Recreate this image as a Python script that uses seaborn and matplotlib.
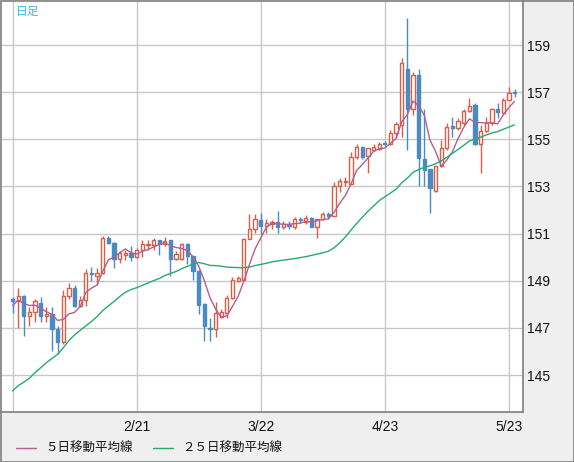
import numpy as np
import pandas as pd
import matplotlib
matplotlib.use("Agg")
import matplotlib.pyplot as plt
import seaborn as sns
from matplotlib.patches import Rectangle

# ---------------- data (USD/JPY daily) ----------------
dates = pd.bdate_range("2024-01-22", "2024-05-24")

opens = [148.24, 148.13, 148.37, 147.50, 147.67, 148.07, 147.49, 147.60, 146.96, 146.38,
         148.34, 148.70, 147.92, 148.17, 149.34, 149.20, 149.34, 150.83, 150.62, 149.93,
         150.10, 150.19, 150.01, 150.30, 150.50, 150.51, 150.74, 150.54, 150.71, 149.94,
         149.93, 150.57, 150.07, 149.43, 148.02, 147.00, 146.94, 147.48, 147.62, 148.26,
         149.00, 149.05, 150.78, 151.20, 151.58, 151.34, 151.42, 151.50, 151.27, 151.36,
         151.27, 151.62, 151.50, 151.67, 151.30, 151.60, 151.82, 151.76, 153.00, 153.18,
         153.12, 154.23, 154.66, 154.30, 154.55, 154.60, 154.85, 154.80, 155.25, 155.61,
         158.00, 156.28, 157.73, 154.16, 153.74, 152.81, 153.88, 154.62, 155.56, 155.46,
         155.70, 156.20, 156.45, 154.79, 155.37, 155.68, 156.28, 156.13, 156.69, 157.00]
highs = [148.32, 148.70, 148.40, 147.89, 148.21, 148.31, 147.89, 147.89, 147.09, 148.60,
         148.91, 148.80, 148.37, 149.48, 149.59, 149.55, 150.90, 150.88, 150.65, 150.26,
         150.29, 150.47, 150.40, 150.72, 150.72, 150.82, 150.74, 150.86, 150.71, 150.25,
         150.61, 150.61, 150.07, 149.45, 148.05, 147.41, 148.08, 147.80, 148.40, 149.16,
         149.20, 150.82, 151.82, 151.82, 151.88, 151.60, 151.58, 151.97, 151.52, 151.52,
         151.69, 151.72, 151.80, 151.72, 151.63, 151.90, 151.90, 153.20, 153.34, 153.42,
         154.47, 154.79, 154.72, 154.65, 154.80, 154.88, 154.93, 155.40, 155.75, 158.45,
         160.15, 157.85, 157.98, 156.28, 153.76, 153.86, 154.97, 155.68, 155.96, 155.89,
         156.27, 156.74, 156.56, 155.60, 155.96, 156.34, 156.54, 156.74, 157.20, 157.12]
lows = [147.63, 146.99, 146.64, 147.06, 147.25, 147.25, 147.25, 146.00, 145.88, 146.30,
        148.24, 147.89, 147.89, 147.92, 148.98, 148.84, 149.27, 150.55, 149.55, 149.76,
        149.88, 149.83, 149.97, 150.00, 150.30, 150.30, 150.08, 150.47, 149.19, 149.90,
        149.87, 149.69, 149.05, 147.60, 146.46, 146.46, 146.60, 147.40, 147.40, 148.23,
        148.95, 149.02, 150.75, 151.04, 151.00, 151.03, 151.20, 151.04, 151.20, 151.20,
        151.20, 151.44, 151.40, 151.27, 150.80, 151.58, 151.60, 151.73, 152.76, 153.00,
        153.10, 154.15, 154.15, 153.58, 154.50, 154.55, 154.70, 154.75, 155.10, 155.10,
        154.53, 156.05, 153.03, 153.03, 151.86, 152.78, 153.84, 154.55, 155.11, 155.39,
        155.60, 156.18, 154.76, 153.58, 155.33, 155.60, 155.89, 156.10, 156.67, 156.78]
closes = [148.13, 148.36, 147.49, 147.67, 148.16, 147.49, 147.60, 146.95, 146.38, 148.36,
          148.68, 147.92, 148.20, 149.34, 149.30, 149.34, 150.83, 150.62, 149.93, 150.19,
          150.18, 150.02, 150.32, 150.54, 150.54, 150.74, 150.54, 150.68, 149.94, 150.15,
          150.54, 150.07, 149.40, 147.98, 147.06, 146.94, 147.62, 147.68, 148.26, 149.05,
          149.10, 150.78, 151.21, 151.60, 151.34, 151.45, 151.50, 151.27, 151.40, 151.33,
          151.62, 151.58, 151.65, 151.30, 151.60, 151.82, 151.76, 153.02, 153.23, 153.25,
          154.23, 154.66, 154.26, 154.62, 154.66, 154.82, 154.80, 155.25, 155.65, 158.22,
          156.28, 157.73, 154.22, 153.70, 152.92, 153.86, 154.62, 155.51, 155.46, 155.76,
          156.21, 156.41, 154.79, 155.37, 155.68, 156.27, 156.17, 156.69, 156.95, 156.97]
# closes of the 24 sessions before the first candle (needed for the moving averages)
prior_closes = [142.8, 143.8, 143.5, 142.1, 142.4, 142.3, 142.4, 142.0, 141.4, 141.0,
                142.0, 143.3, 144.6, 144.6, 144.2, 144.4, 145.7, 145.3, 144.9, 145.7,
                147.2, 148.2, 148.1, 148.1]

grid_dates = ["1/22", "2/21", "3/22", "4/23", "5/23"]
shown_labels = ["", "2/21", "3/22", "4/23", "5/23"]
y_ticks = [145, 147, 149, 151, 153, 155, 157, 159]
legend_labels = ["５日移動平均線", "２５日移動平均線"]
title_text = "日足"

# ---------------- derived ----------------
n = len(closes)
allc = pd.Series(prior_closes + closes)
ma5 = allc.rolling(5).mean().iloc[len(prior_closes):].to_numpy()
ma25 = allc.rolling(25).mean().iloc[len(prior_closes):].to_numpy()
df = pd.DataFrame({"idx": np.arange(n), "ma5": ma5, "ma25": ma25})

UP = "#dc5c44"
DOWN = "#4a8bc3"
MA5C = "#b55e92"
MA25C = "#27ab6b"
GRID = "#c8c8c8"
BG = "#efefef"
BORDER = "#7f7f7f"

sns.set_theme(style="white")
plt.rcParams["font.family"] = ["Liberation Sans", "DejaVu Sans"]

W, H = 574, 462
fig = plt.figure(figsize=(W / 100, H / 100), dpi=100, facecolor=BG)
ax = fig.add_axes([1 / W, (H - 412) / H, 522 / W, 411 / H])
ax.set_facecolor("white")

# grid
gpos = [i for i, d in enumerate(dates) if f"{d.month}/{d.day}" in grid_dates]
for gx in gpos:
    ax.axvline(gx, color=GRID, lw=1.0, zorder=1)
for gy in y_ticks:
    ax.axhline(gy, color=GRID, lw=1.0, zorder=1)

# candles
bw = 0.58
for i in range(n):
    o, h, l, c = opens[i], highs[i], lows[i], closes[i]
    up = c >= o
    col = UP if up else DOWN
    ax.vlines(i, l, h, color=col, lw=1.0, zorder=2)
    bot = min(o, c)
    hgt = max(abs(c - o), 0.02)
    ax.add_patch(Rectangle((i - bw / 2, bot), bw, hgt,
                           facecolor="white" if up else DOWN,
                           edgecolor=col, lw=1.0, zorder=3))

# moving averages
sns.lineplot(data=df, x="idx", y="ma5", color=MA5C, lw=1.0, ax=ax, zorder=4)
sns.lineplot(data=df, x="idx", y="ma25", color=MA25C, lw=1.0, ax=ax, zorder=4)

ax.set_xlim(-2.04, 90.5)
ax.set_ylim(143.43, 160.87)
ax.set_xlabel("")
ax.set_ylabel("")

ax.set_xticks(gpos)
ax.set_xticklabels(shown_labels)
ax.set_yticks(y_ticks)
ax.set_yticklabels([str(v) for v in y_ticks])
ax.yaxis.tick_right()
ax.tick_params(axis="both", length=0, labelsize=10, colors="#111111")
ax.tick_params(axis="y", pad=3)
ax.tick_params(axis="x", pad=6)
for lab in ax.get_xticklabels():
    lab.set_horizontalalignment("center")

for s in ["left", "top"]:
    ax.spines[s].set_visible(False)
for s in ["right", "bottom"]:
    ax.spines[s].set_visible(True)
    ax.spines[s].set_color(BORDER)
    ax.spines[s].set_linewidth(1.2)

# title
fig.text(16 / W, 1 - 11 / H, title_text, color="#3fb8e6", fontsize=8.5,
         family=["Noto Sans CJK JP", "DejaVu Sans"], va="center", ha="left")

# legend
cjk = ["Noto Sans CJK JP", "DejaVu Sans"]
ly = 1 - 448 / H
fig.add_artist(plt.Line2D([16 / W, 36 / W], [ly, ly], color=MA5C, lw=1.0, transform=fig.transFigure))
fig.text(45 / W, ly, legend_labels[0], fontsize=9, family=cjk, va="center", ha="left",
         color="#111111")
fig.add_artist(plt.Line2D([153 / W, 173 / W], [ly, ly], color=MA25C, lw=1.0, transform=fig.transFigure))
fig.text(182 / W, ly, legend_labels[1], fontsize=9, family=cjk, va="center", ha="left",
         color="#111111")

# outer border
fig.add_artist(Rectangle((0.5 / W, 0.5 / H), (W - 1) / W, (H - 1) / H, transform=fig.transFigure,
                         fill=False, edgecolor=BORDER, lw=1.2))

fig.savefig("out.png", dpi=100, facecolor=BG)
